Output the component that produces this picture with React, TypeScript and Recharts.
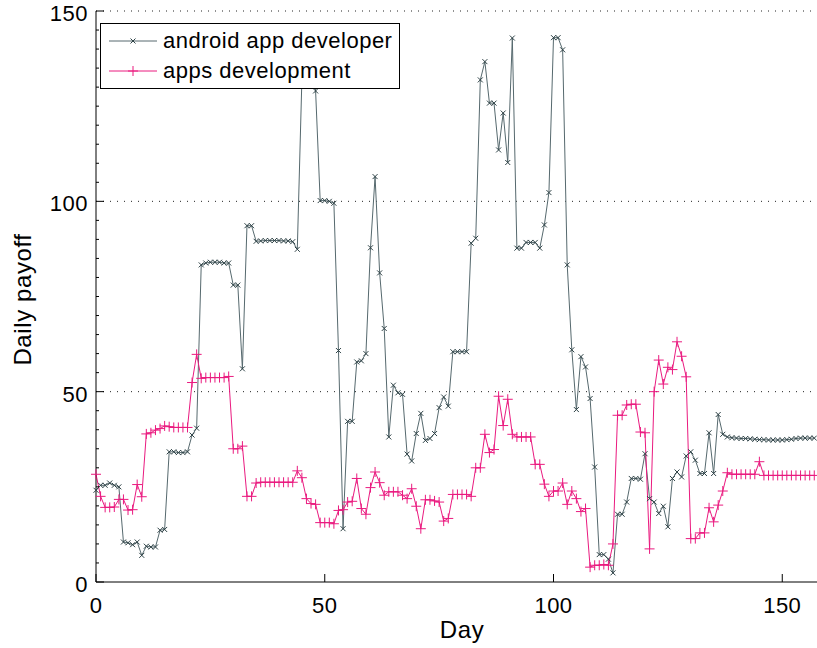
import React from "react";
import {
    LineChart, Line, XAxis, YAxis, ReferenceLine, Legend
} from "recharts";

// daily payoff per keyword, one value per day starting at day 0
const androidAppDeveloper = [
    24.1, 25.4, 25.4, 26.0, 25.4, 25.0, 10.5, 10.3, 9.8, 10.5,
    7.0, 9.4, 9.2, 9.2, 13.6, 13.8, 34.2, 34.2, 34.0, 34.0,
    34.2, 38.6, 40.4, 83.3, 83.8, 84.0, 84.0, 84.0, 83.8, 83.8,
    78.0, 78.0, 56.0, 93.6, 93.6, 89.5, 89.6, 89.7, 89.7, 89.7,
    89.7, 89.6, 89.6, 89.4, 87.4, 132.0, 140.0, 142.0, 129.0, 100.2,
    100.2, 100.0, 99.5, 60.8, 14.0, 42.2, 42.2, 57.8, 58.1, 60.0,
    87.8, 106.5, 81.2, 66.6, 38.1, 51.7, 49.7, 49.3, 33.6, 31.8,
    39.0, 44.3, 37.2, 37.7, 39.0, 45.8, 48.6, 46.2, 60.5, 60.5,
    60.5, 60.5, 89.0, 90.3, 131.9, 136.7, 125.8, 125.8, 113.5, 123.2,
    110.2, 142.9, 87.7, 87.7, 89.2, 89.2, 89.2, 87.7, 93.8, 102.3,
    143.0, 143.0, 139.8, 83.3, 61.0, 45.3, 59.2, 56.5, 48.2, 30.2,
    7.2, 7.2, 6.0, 2.4, 17.8, 17.8, 21.0, 27.2, 27.2, 27.0,
    33.7, 21.9, 21.0, 18.0, 19.9, 14.5, 27.2, 28.9, 27.6, 33.1,
    34.2, 32.0, 28.5, 28.5, 39.2, 28.5, 44.0, 38.8, 38.1, 37.9,
    37.8, 37.7, 37.7, 37.6, 37.5, 37.4, 37.4, 37.3, 37.3, 37.3,
    37.3, 37.4, 37.5, 37.7, 37.8, 37.8, 37.8, 37.8,
];

const appsDevelopment = [
    28.3, 22.5, 19.6, 19.6, 19.7, 21.7, 21.7, 18.9, 19.0, 25.6,
    22.4, 38.9, 39.2, 39.9, 40.3, 41.0, 40.8, 40.6, 40.6, 40.6,
    40.6, 52.4, 59.8, 53.5, 53.7, 53.7, 53.7, 53.7, 53.7, 54.0,
    35.0, 35.0, 35.7, 22.5, 22.5, 26.0, 26.2, 26.2, 26.2, 26.2,
    26.2, 26.2, 26.2, 26.2, 29.2, 27.4, 21.9, 20.6, 20.4, 15.6,
    15.6, 15.6, 15.3, 18.8, 19.0, 21.0, 21.2, 27.2, 19.3, 17.8,
    24.8, 28.9, 26.1, 22.8, 23.7, 23.7, 23.7, 22.8, 21.9, 24.5,
    19.9, 14.0, 21.6, 21.6, 21.3, 21.0, 16.0, 16.7, 23.0, 23.0,
    23.0, 23.0, 22.5, 30.0, 30.0, 38.8, 34.0, 34.8, 48.8, 41.1,
    48.0, 38.8, 38.1, 38.1, 38.1, 38.1, 30.9, 30.9, 25.7, 22.5,
    23.9, 23.9, 26.0, 20.4, 23.9, 21.9, 18.5, 19.3, 3.9, 4.4,
    4.4, 4.6, 4.4, 10.0, 43.8, 43.8, 46.5, 46.7, 46.7, 39.4,
    39.2, 8.7, 50.0, 58.3, 52.0, 56.4, 55.8, 63.1, 59.3, 53.9,
    11.4, 11.4, 12.9, 12.9, 19.5, 15.8, 20.2, 23.9, 28.7, 28.3,
    28.3, 28.3, 28.3, 28.3, 28.3, 31.6, 28.0, 28.0, 28.0, 28.0,
    28.0, 28.0, 28.0, 28.0, 28.0, 28.0, 28.0, 28.0,
];

const xTicks = [0, 50, 100, 150];
const yMajorTicks = [0, 50, 100, 150];
const yGridLines = [50, 100, 150];

const FONT = '"Liberation Sans", Arial, Helvetica, sans-serif';
const ANDROID_LINE = "#56696e";
const ANDROID_MARK = "#2e4246";
const APPS_COLOR = "#ea1a7f";

// minor ticks every 5 units on the y axis
const yAllTicks: number[] = [];
for (let v = 0; v <= 150; v += 5) yAllTicks.push(v);

const data = androidAppDeveloper.map((v, i) => ({
    day: i,
    android: v,
    apps: appsDevelopment[i],
}));

const XMark = ({ cx, cy, r = 2.5, color }: any) => (
    <path
        d={`M${cx - r},${cy - r}L${cx + r},${cy + r}M${cx - r},${cy + r}L${cx + r},${cy - r}`}
        stroke={color} strokeWidth={1} fill="none"
    />
);

const PlusMark = ({ cx, cy, r = 5, color }: any) => (
    <path
        d={`M${cx - r},${cy}L${cx + r},${cy}M${cx},${cy - r}L${cx},${cy + r}`}
        stroke={color} strokeWidth={1} fill="none"
    />
);

const series = [
    { key: "android", name: "android app developer", line: ANDROID_LINE, mark: ANDROID_MARK, Marker: XMark },
    { key: "apps", name: "apps development", line: APPS_COLOR, mark: APPS_COLOR, Marker: PlusMark },
];

// inward tick marks, MATLAB style
const BottomTick = ({ x, y, payload }: any) => (
    <g>
        <line x1={x} x2={x} y1={y} y2={y - 8} stroke="#000" strokeWidth={1} />
        <text x={x} y={y + 31} textAnchor="middle" fontSize={22} letterSpacing={0.5}
            fontFamily={FONT} fill="#000">{payload.value}</text>
    </g>
);

const TopTick = ({ x, y }: any) => (
    <line x1={x} x2={x} y1={y} y2={y + 8} stroke="#000" strokeWidth={1} />
);

const LeftTick = ({ x, y, payload }: any) => {
    const major = yMajorTicks.includes(payload.value);
    return (
        <g>
            <line x1={x} x2={x + (major ? 8 : 3)} y1={y} y2={y} stroke="#000" strokeWidth={1} />
            {major && (
                <text x={x - 8} y={y + 10} textAnchor="end" fontSize={22} letterSpacing={0.5}
                    fontFamily={FONT} fill="#000">{payload.value}</text>
            )}
        </g>
    );
};

const YLabel = ({ viewBox }: any) => {
    const cx = viewBox.x + 22;
    const cy = viewBox.y + viewBox.height / 2 + 3;
    return (
        <text x={cx} y={cy} transform={`rotate(-90 ${cx} ${cy})`} textAnchor="middle"
            dominantBaseline="central" fontSize={24} letterSpacing={0.6} fontFamily={FONT} fill="#000">
            Daily payoff
        </text>
    );
};

const XLabel = ({ viewBox }: any) => (
    <text x={viewBox.x + viewBox.width / 2} y={viewBox.y + 56} textAnchor="middle"
        fontSize={24} letterSpacing={0.6} fontFamily={FONT} fill="#000">
        Day
    </text>
);

const LegendBox = () => (
    <div style={{
        width: 298, height: 62, border: "1px solid #000", background: "#fff",
        fontFamily: FONT, fontSize: 22, letterSpacing: 0.5, paddingTop: 2,
    }}>
        {series.map((s) => (
            <div key={s.key} style={{ display: "flex", alignItems: "center", height: 30 }}>
                <svg width={56} height={30} style={{ flex: "none" }}>
                    <line x1={8} x2={56} y1={15} y2={15} stroke={s.line} strokeWidth={1} />
                    <s.Marker cx={32} cy={15} color={s.mark} />
                </svg>
                <span style={{ marginLeft: 6, lineHeight: "30px" }}>{s.name}</span>
            </div>
        ))}
    </div>
);

export default function App() {
    return (
        <div style={{ position: "absolute", left: 0, top: 0, width: 817, height: 648, overflow: "hidden", background: "#fff" }}>
            <LineChart width={840} height={648} data={data}
                margin={{ top: 11, right: 12, left: 0, bottom: 0 }}>
                {yGridLines.map((v) => (
                    <ReferenceLine key={v} y={v} stroke="#222" strokeWidth={1} strokeDasharray="1 6" />
                ))}
                <XAxis dataKey="day" type="number" domain={[0, 160]} ticks={xTicks}
                    height={66} tickLine={false} tickSize={0} tickMargin={0} interval={0}
                    axisLine={{ stroke: "#000" }} tick={<BottomTick />} label={<XLabel />} />
                <XAxis xAxisId="top" orientation="top" type="number" domain={[0, 160]} ticks={xTicks}
                    height={0} tickLine={false} tickSize={0} tickMargin={0} interval={0}
                    axisLine={{ stroke: "#000" }} tick={<TopTick />} />
                <YAxis type="number" domain={[0, 150]} ticks={yAllTicks} width={96}
                    tickLine={false} tickSize={0} tickMargin={0} interval={0}
                    axisLine={{ stroke: "#000" }} tick={<LeftTick />} label={<YLabel />} />
                {series.map((s) => (
                    <Line key={s.key} dataKey={s.key} name={s.name} type="linear"
                        stroke={s.line} strokeWidth={1} isAnimationActive={false} activeDot={false}
                        dot={(p: any) => <s.Marker key={`${s.key}-${p.index}`} cx={p.cx} cy={p.cy} color={s.mark} />} />
                ))}
                <Legend layout="horizontal" verticalAlign="middle" align="center"
                    wrapperStyle={{ left: 100, top: 23, width: 300, height: 64 }}
                    content={<LegendBox />} />
            </LineChart>
        </div>
    );
}
